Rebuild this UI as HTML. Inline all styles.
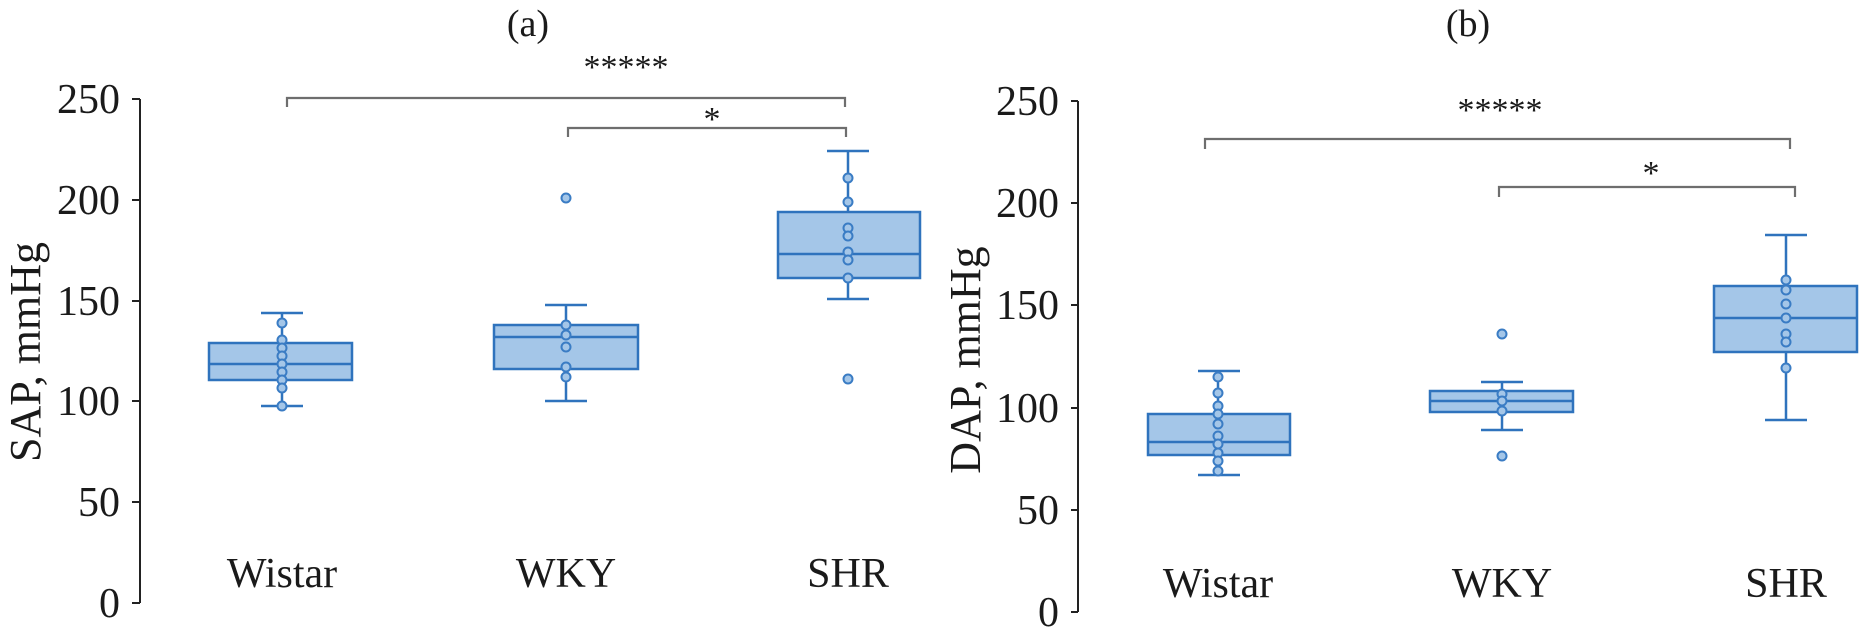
<!DOCTYPE html>
<html><head><meta charset="utf-8"><style>
html,body{margin:0;padding:0;background:#fff;}
svg{display:block;}
text{font-family:"Liberation Serif",serif;fill:#1a1a1a;}
</style></head><body>
<svg width="1869" height="632" viewBox="0 0 1869 632" xmlns="http://www.w3.org/2000/svg">
<defs>
<style>
.ax{stroke:#222;stroke-width:2;fill:none}
.bx{fill:#a4c6e8;stroke:#2f73bd;stroke-width:2.5}
.wl{stroke:#2f73bd;stroke-width:2.5;fill:none}
.pt{fill:#a4c6e8;stroke:#3a7cc4;stroke-width:2}
.br{stroke:#6e6e6e;stroke-width:2.2;fill:none}
.tk{font-size:42px;text-anchor:end}
.cat{font-size:42px;text-anchor:middle}
</style>
</defs>

<!-- Panel (a) -->
<text x="528" y="36" font-size="38" text-anchor="middle">(a)</text>
<line class="ax" x1="140" y1="99" x2="140" y2="603"/>
<g class="ax">
<line x1="132" y1="603" x2="140" y2="603"/><line x1="132" y1="502" x2="140" y2="502"/>
<line x1="132" y1="401" x2="140" y2="401"/><line x1="132" y1="301" x2="140" y2="301"/>
<line x1="132" y1="200" x2="140" y2="200"/><line x1="132" y1="99" x2="140" y2="99"/>
</g>
<text class="tk" x="120" y="617">0</text>
<text class="tk" x="120" y="516">50</text>
<text class="tk" x="120" y="415">100</text>
<text class="tk" x="120" y="315">150</text>
<text class="tk" x="120" y="214">200</text>
<text class="tk" x="120" y="113">250</text>
<text x="0" y="0" font-size="44" text-anchor="middle" transform="translate(40,352) rotate(-90)">SAP, mmHg</text>
<text class="cat" x="282" y="587">Wistar</text>
<text class="cat" x="566" y="587">WKY</text>
<text class="cat" x="848" y="587">SHR</text>

<path class="br" d="M287,107 V98 H845 V107"/>
<path class="br" d="M568,137 V128 H846 V137"/>
<text x="626" y="78" font-size="34" text-anchor="middle">*****</text>
<text x="712" y="130" font-size="34" text-anchor="middle">*</text>

<line class="wl" x1="282" y1="313" x2="282" y2="406"/>
<line class="wl" x1="261" y1="313" x2="303" y2="313"/>
<line class="wl" x1="261" y1="406" x2="303" y2="406"/>
<rect class="bx" x="209" y="343" width="143" height="37"/>
<line class="wl" x1="209" y1="364" x2="352" y2="364"/>
<g class="pt">
<circle cx="282" cy="323" r="4.5"/><circle cx="282" cy="340" r="4.5"/><circle cx="282" cy="348" r="4.5"/>
<circle cx="282" cy="356" r="4.5"/><circle cx="282" cy="364" r="4.5"/><circle cx="282" cy="372" r="4.5"/>
<circle cx="282" cy="380" r="4.5"/><circle cx="282" cy="388" r="4.5"/><circle cx="282" cy="406" r="4.5"/>
</g>
<line class="wl" x1="566" y1="305" x2="566" y2="401"/>
<line class="wl" x1="545" y1="305" x2="587" y2="305"/>
<line class="wl" x1="545" y1="401" x2="587" y2="401"/>
<rect class="bx" x="494" y="325" width="144" height="44"/>
<line class="wl" x1="494" y1="337" x2="638" y2="337"/>
<g class="pt">
<circle cx="566" cy="198" r="4.5"/><circle cx="566" cy="325" r="4.5"/><circle cx="566" cy="335" r="4.5"/>
<circle cx="566" cy="347" r="4.5"/><circle cx="566" cy="367" r="4.5"/><circle cx="566" cy="377" r="4.5"/>
</g>
<line class="wl" x1="848" y1="151" x2="848" y2="299"/>
<line class="wl" x1="827" y1="151" x2="869" y2="151"/>
<line class="wl" x1="827" y1="299" x2="869" y2="299"/>
<rect class="bx" x="778" y="212" width="142" height="66"/>
<line class="wl" x1="778" y1="254" x2="920" y2="254"/>
<g class="pt">
<circle cx="848" cy="178" r="4.5"/><circle cx="848" cy="202" r="4.5"/><circle cx="848" cy="228" r="4.5"/>
<circle cx="848" cy="236" r="4.5"/><circle cx="848" cy="252" r="4.5"/><circle cx="848" cy="260" r="4.5"/>
<circle cx="848" cy="278" r="4.5"/><circle cx="848" cy="379" r="4.5"/>
</g>

<!-- Panel (b) -->
<text x="1468" y="36" font-size="38" text-anchor="middle">(b)</text>
<line class="ax" x1="1078" y1="101" x2="1078" y2="612"/>
<g class="ax">
<line x1="1071" y1="612" x2="1078" y2="612"/><line x1="1071" y1="510" x2="1078" y2="510"/>
<line x1="1071" y1="408" x2="1078" y2="408"/><line x1="1071" y1="305" x2="1078" y2="305"/>
<line x1="1071" y1="203" x2="1078" y2="203"/><line x1="1071" y1="101" x2="1078" y2="101"/>
</g>
<text class="tk" x="1059" y="626">0</text>
<text class="tk" x="1059" y="524">50</text>
<text class="tk" x="1059" y="422">100</text>
<text class="tk" x="1059" y="319">150</text>
<text class="tk" x="1059" y="217">200</text>
<text class="tk" x="1059" y="115">250</text>
<text x="0" y="0" font-size="44" text-anchor="middle" transform="translate(980,360) rotate(-90)">DAP, mmHg</text>
<text class="cat" x="1218" y="597">Wistar</text>
<text class="cat" x="1502" y="597">WKY</text>
<text class="cat" x="1786" y="597">SHR</text>

<path class="br" d="M1205,149 V139 H1790 V149"/>
<path class="br" d="M1499,197 V187 H1795 V197"/>
<text x="1500" y="121" font-size="34" text-anchor="middle">*****</text>
<text x="1651" y="184" font-size="34" text-anchor="middle">*</text>

<line class="wl" x1="1218" y1="371" x2="1218" y2="475"/>
<line class="wl" x1="1198" y1="371" x2="1240" y2="371"/>
<line class="wl" x1="1198" y1="475" x2="1240" y2="475"/>
<rect class="bx" x="1148" y="414" width="142" height="41"/>
<line class="wl" x1="1148" y1="442" x2="1290" y2="442"/>
<g class="pt">
<circle cx="1218" cy="377" r="4.5"/><circle cx="1218" cy="393" r="4.5"/><circle cx="1218" cy="406" r="4.5"/>
<circle cx="1218" cy="414" r="4.5"/><circle cx="1218" cy="424" r="4.5"/><circle cx="1218" cy="436" r="4.5"/>
<circle cx="1218" cy="444" r="4.5"/><circle cx="1218" cy="453" r="4.5"/><circle cx="1218" cy="461" r="4.5"/>
<circle cx="1218" cy="471" r="4.5"/>
</g>
<line class="wl" x1="1502" y1="382" x2="1502" y2="430"/>
<line class="wl" x1="1481" y1="382" x2="1523" y2="382"/>
<line class="wl" x1="1481" y1="430" x2="1523" y2="430"/>
<rect class="bx" x="1430" y="391" width="143" height="21"/>
<line class="wl" x1="1430" y1="401" x2="1573" y2="401"/>
<g class="pt">
<circle cx="1502" cy="334" r="4.5"/><circle cx="1502" cy="394" r="4.5"/><circle cx="1502" cy="401" r="4.5"/>
<circle cx="1502" cy="411" r="4.5"/><circle cx="1502" cy="456" r="4.5"/>
</g>
<line class="wl" x1="1786" y1="235" x2="1786" y2="420"/>
<line class="wl" x1="1765" y1="235" x2="1807" y2="235"/>
<line class="wl" x1="1765" y1="420" x2="1807" y2="420"/>
<rect class="bx" x="1714" y="286" width="143" height="66"/>
<line class="wl" x1="1714" y1="318" x2="1857" y2="318"/>
<g class="pt">
<circle cx="1786" cy="280" r="4.5"/><circle cx="1786" cy="290" r="4.5"/><circle cx="1786" cy="304" r="4.5"/>
<circle cx="1786" cy="318" r="4.5"/><circle cx="1786" cy="334" r="4.5"/><circle cx="1786" cy="342" r="4.5"/>
<circle cx="1786" cy="368" r="4.5"/>
</g>
</svg>
</body></html>
